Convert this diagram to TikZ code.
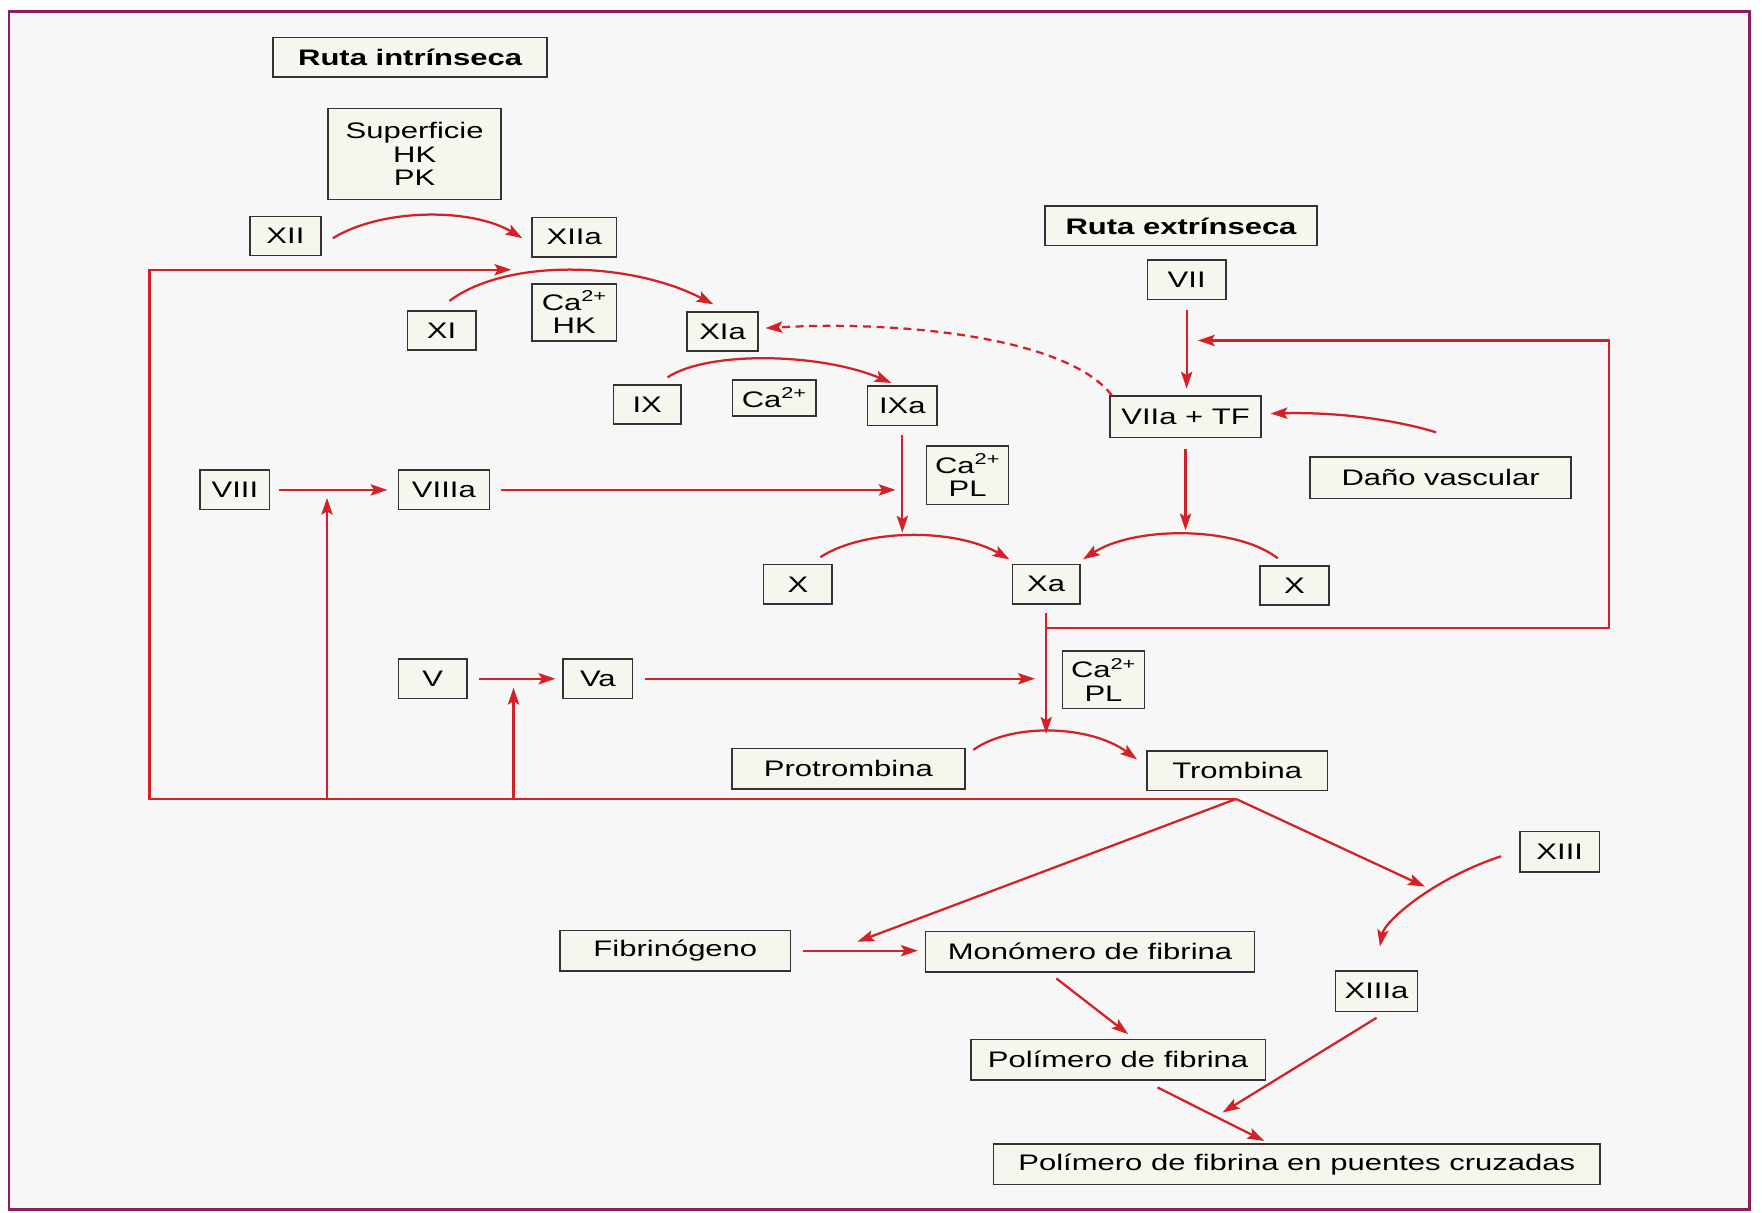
\documentclass[tikz,border=0pt]{standalone}
\usepackage{fontspec}
\setmainfont{Liberation Sans}[FakeStretch=1.38]
\usetikzlibrary{arrows.meta,calc}
\definecolor{arrred}{HTML}{D42027}
\definecolor{framec}{HTML}{8C1F5E}
\definecolor{boxfill}{HTML}{F6F6EE}
\begin{document}
\begin{tikzpicture}[x=1pt,y=-1pt,
  bx/.style={draw=black!80, line width=1.4pt, fill=boxfill, minimum height=35, inner sep=0pt, font=\fontsize{20}{21}\selectfont, align=center},
  ln/.style={draw=arrred, line width=2pt},
  ar/.style={ln, -{Stealth[length=15pt,width=10pt,inset=3pt]}},
  dsh/.style={ar, dash pattern=on 7pt off 5pt},
]
\useasboundingbox (0,0) rectangle (1568,1079);
\fill[white] (0,0) rectangle (1568,1079);
\fill[white!97!black] (8,10) rectangle (1557,1076);
\draw[framec, line width=2.5pt] (8,10) rectangle (1557,1076);

% nodes
\node[bx, minimum width=244, font=\fontsize{20}{21}\selectfont\bfseries] (ri) at (365,51) {Ruta intrínseca};
\node[bx, minimum width=154, minimum height=81] (sup) at (369,137) {Superficie\\HK\\PK};
\node[bx, minimum width=63] (xii) at (254,210) {XII};
\node[bx, minimum width=75] (xiia) at (511,211) {XIIa};
\node[bx, minimum width=61] (xi) at (393,294) {XI};
\node[bx, minimum width=75, minimum height=51] (cahk) at (511,278) {Ca\textsuperscript{2+}\\HK};
\node[bx, minimum width=63] (xia) at (643,295) {XIa};
\node[bx, minimum width=60] (ix) at (576,360) {IX};
\node[bx, minimum width=74, minimum height=32] (ca1) at (689,354) {Ca\textsuperscript{2+}};
\node[bx, minimum width=62] (ixa) at (803,361) {IXa};
\node[bx, minimum width=62] (viii) at (209,436) {VIII};
\node[bx, minimum width=81] (viiia) at (395,436) {VIIIa};
\node[bx, minimum width=73, minimum height=52] (capl1) at (861,423) {Ca\textsuperscript{2+}\\PL};
\node[bx, minimum width=61] (xl) at (710,520) {X};
\node[bx, minimum width=60] (xa) at (931,520) {Xa};
\node[bx, minimum width=61] (xr) at (1152,521) {X};
\node[bx, minimum width=242, font=\fontsize{20}{21}\selectfont\bfseries] (re) at (1051,201) {Ruta extrínseca};
\node[bx, minimum width=70] (vii) at (1056,249) {VII};
\node[bx, minimum width=134, minimum height=37] (viiatf) at (1055,371) {VIIa + TF};
\node[bx, minimum width=232, minimum height=37] (dano) at (1282,425) {Daño vascular};
\node[bx, minimum width=61] (v) at (385,604) {V};
\node[bx, minimum width=62] (va) at (532,604) {Va};
\node[bx, minimum width=73, minimum height=51] (capl2) at (982,605) {Ca\textsuperscript{2+}\\PL};
\node[bx, minimum width=207, minimum height=36] (pro) at (755,684) {Protrombina};
\node[bx, minimum width=161] (tro) at (1101,686) {Trombina};
\node[bx, minimum width=71, minimum height=36] (xiii) at (1388,758) {XIII};
\node[bx, minimum width=205, minimum height=36] (fib) at (601,846) {Fibrinógeno};
\node[bx, minimum width=293, minimum height=36] (mon) at (970,847) {Monómero de fibrina};
\node[bx, minimum width=73, minimum height=36] (xiiia) at (1225,882) {XIIIa};
\node[bx, minimum width=262, minimum height=36] (pol) at (995,943) {Polímero de fibrina};
\node[bx, minimum width=540, minimum height=36] (cruz) at (1154,1036) {Polímero de fibrina en puentes cruzadas};

% named free points
\coordinate (fbL) at (455,240);
\coordinate (j8) at (291,436);
\coordinate (j5) at (457,604);
\coordinate (ixin) at (803,436);
\coordinate (xain) at (931,604);
\coordinate (xpeakL) at (803,474);
\coordinate (xpeakR) at (1055,472);
\coordinate (proin) at (931,653);
\coordinate (vin) at (1056,303);
\coordinate (brR) at (931,559);
\coordinate (trj) at (1100,711);
\coordinate (fbin) at (763,838);
\coordinate (xiiin) at (1268,789);
\coordinate (polj) at (1088,990);

% curved conversions
\draw[ar] ($(xii.east)+(10,2)$) .. controls (340,185) and (420,185) .. ($(xiia.west)+(-8,1)$);
\draw[ar] ($(xi.north)+(7,-8)$) .. controls (450,230) and (560,232) .. ($(xia.north west)+(24,-6)$);
\draw[ar] ($(ix.north)+(18,-6)$) .. controls (630,312) and (730,314) .. ($(ixa.north west)+(22,-2)$);
\draw[ar] ($(xl.north)+(20,-6)$) .. controls (770,470) and (850,470) .. ($(xa.north west)+(-2,-4)$);
\draw[ar] ($(xr.north)+(-15,-6)$) .. controls (1100,468) and (1010,468) .. ($(xa.north east)+(2,-4)$);
\draw[ar] ($(pro.north east)+(7,2)$) .. controls (900,643) and (970,645) .. ($(tro.north west)+(-8,8)$);
\draw[dsh] ($(viiatf.north west)+(2,0)$) .. controls (950,300) and (800,285) .. ($(xia.east)+(6,-3)$);
\draw[ar] ($(dano.north)+(-4,-21)$) .. controls (1270,382) and (1215,366) .. ($(viiatf.east)+(8,-3)$);
\draw[ar] ($(xiii.west)+(-16,4)$) .. controls (1275,782) and (1232,820) .. ($(xiiia.north)+(3,-21)$);

% straight arrows
\draw[ar] ($(vii.south)+(0,9)$) -- ($(viiatf.north)+(1,-6)$);
\draw[ar] ($(viiatf.south)+(0,9)$) -- (xpeakR);
\draw[ar] ($(ixa.south)+(0,8)$) -- (xpeakL);
\draw[ar] ($(viii.east)+(8,0)$) -- ($(viiia.west)+(-9,0)$);
\draw[ar] ($(viiia.east)+(10,0)$) -- ($(ixin)+(-6,0)$);
\draw[ar] (291,711) -- ($(j8)+(0,7)$);
\draw[ar] ($(v.east)+(10,0)$) -- ($(va.west)+(-6,0)$);
\draw[ar] (457,711) -- ($(j5)+(0,8)$);
\draw[ar] ($(va.east)+(10,0)$) -- ($(xain)+(-10,0)$);
\draw[ar] ($(xa.south)+(0,7)$) -- (proin);
\draw[ar] (brR) -- (1432,559) -- (1432,303) -- ($(vin)+(10,0)$);
\draw[ar] (trj) -- (133,711) -- (133,240) -- (fbL);
\draw[ar] (trj) -- (fbin);
\draw[ar] (trj) -- (xiiin);
\draw[ar] ($(fib.east)+(10,0)$) -- ($(mon.west)+(-6,-1)$);
\draw[ar] ($(mon.south)+(-30,5)$) -- ($(pol.north)+(9,-4)$);
\draw[ar] ($(xiiia.south)+(0,5)$) -- (polj);
\draw[ar] ($(pol.south)+(35,6)$) -- ($(cruz.north)+(-29,-2)$);
\end{tikzpicture}
\end{document}
